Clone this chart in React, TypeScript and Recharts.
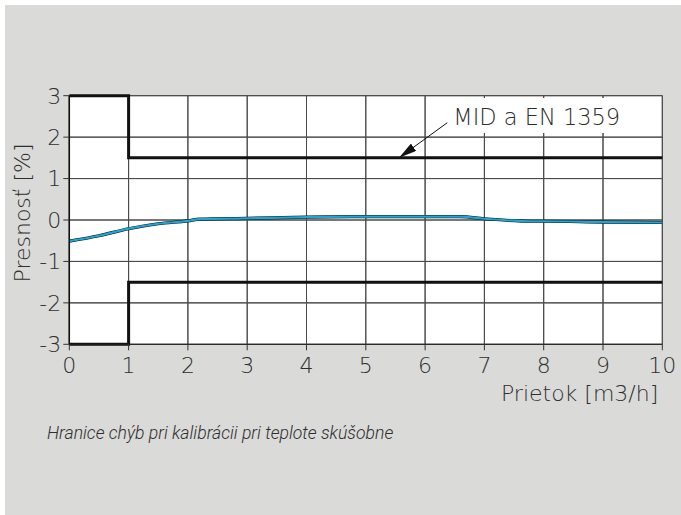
import React from "react";
import {
  LineChart,
  Line,
  XAxis,
  YAxis,
  CartesianGrid,
  ReferenceDot,
} from "recharts";

// ---- data ----
const xTicks = [0, 1, 2, 3, 4, 5, 6, 7, 8, 9, 10];
const yTicks = [-3, -2, -1, 0, 1, 2, 3];

const limitX = [0, 1, 1, 10];
const upperLimitY = [3, 3, 1.5, 1.5];
const lowerLimitY = [-3, -3, -1.5, -1.5];

const flowX = [0, 0.5, 1, 1.5, 2, 2.2, 3, 4, 5, 6, 6.6, 7, 7.8, 8, 9, 10];
const errorY = [-0.51, -0.38, -0.21, -0.09, -0.02, 0.02, 0.04, 0.07, 0.08, 0.08, 0.08, 0.03, -0.03, -0.03, -0.05, -0.06];

const arrowX = [6.39, 5.56];
const arrowY = [2.365, 1.5];
const annotationText = "MID a EN 1359";

const xLabel = "Prietok [m3/h]";
const yLabel = "Presnosť [%]";
const caption = "Hranice chýb pri kalibrácii pri teplote skúšobne";

// ---- tables ----
const xMin = xTicks[0];
const xMax = xTicks[xTicks.length - 1];
const yMin = yTicks[0];
const yMax = yTicks[yTicks.length - 1];
const hGrid = yTicks.map((v) => [
  { x: xMin, y: v },
  { x: xMax, y: v },
]);
const vGrid = xTicks.map((v) => [
  { x: v, y: yMin },
  { x: v, y: yMax },
]);
const upperData = limitX.map((x, i) => ({ x, y: upperLimitY[i] }));
const lowerData = limitX.map((x, i) => ({ x, y: lowerLimitY[i] }));
const curveData = flowX.map((x, i) => ({ x, y: errorY[i] }));
const arrowData = arrowX.map((x, i) => ({ x, y: arrowY[i] }));

const FONT = "'DejaVu Sans', sans-serif";
const CAPTION_FONT = "Roboto, 'Noto Sans', sans-serif";
const TEXT = "#2e2e2e";
const W = 200;
const GRID = "#4a4a4a";

// plot-area layout (pixels)
const M = { top: 95.7, right: 18.7, bottom: 140.7, left: 9.3 };
const Y_AXIS_W = 60;
const X_AXIS_H = 30;
const CW = 681;
const CH = 515;

const AnnotationShape = (props: any) => {
  const { cx, cy } = props;
  if (cx == null || cy == null) return null;
  return (
    <g>
      <rect x={cx - 1} y={cy - 24} width={181} height={35} fill="#fff" />
      <text
        x={cx + 5}
        y={cy + 3}
        fontFamily={FONT}
        fontWeight={W}
        fontSize={22.5}
        fill={TEXT}
      >
        {annotationText}
      </text>
    </g>
  );
};

const XLabelContent = (props: any) => {
  const vb = props.viewBox || {};
  return (
    <text
      x={vb.x + vb.width - 4}
      y={vb.y + 57}
      textAnchor="end"
      fontFamily={FONT}
      fontWeight={W}
      fontSize={22}
      fill={TEXT}
    >
      {xLabel}
    </text>
  );
};

const YLabelContent = () => {
  const cx = 30;
  const cy = 213;
  return (
    <text
      x={cx}
      y={cy}
      transform={`rotate(-90 ${cx} ${cy})`}
      textAnchor="middle"
      fontFamily={FONT}
      fontWeight={W}
      fontSize={22}
      fill={TEXT}
    >
      {yLabel}
    </text>
  );
};

export default function App() {
  return (
    <div
      style={{
        position: "absolute",
        left: 0,
        top: 0,
        width: CW,
        height: CH,
        background: "#fff",
      }}
    >
      <svg width="0" height="0" style={{ position: "absolute" }}>
        <defs>
          <marker
            id="arrowHead"
            viewBox="0 0 18 9"
            refX="18"
            refY="4.5"
            markerWidth="18"
            markerHeight="9"
            markerUnits="userSpaceOnUse"
            orient="auto"
          >
            <path d="M0,0 L18,4.5 L0,9 z" fill="#111" />
          </marker>
        </defs>
      </svg>
      <div
        style={{
          position: "absolute",
          left: 5,
          top: 5,
          width: CW - 5,
          height: CH - 5,
          background: "#dadad9",
        }}
      />
      <div
        style={{
          position: "absolute",
          left: M.left + Y_AXIS_W,
          top: M.top,
          width: CW - M.left - Y_AXIS_W - M.right,
          height: CH - M.top - M.bottom - X_AXIS_H,
          background: "#fff",
        }}
      />
      <div style={{ position: "absolute", left: 0, top: 0 }}>
        <LineChart width={CW} height={CH} data={curveData} margin={M}>
          <CartesianGrid stroke={GRID} strokeWidth={1} />
          <XAxis
            type="number"
            dataKey="x"
            domain={[xMin, xMax]}
            ticks={xTicks}
            interval={0}
            tickSize={6}
            tickMargin={7}
            height={X_AXIS_H}
            axisLine={{ stroke: "#222", strokeWidth: 1 }}
            tickLine={{ stroke: "#333" }}
            tick={{ fontFamily: FONT, fontWeight: W, fontSize: 22, fill: TEXT }}
            label={<XLabelContent />}
          />
          <YAxis
            type="number"
            dataKey="y"
            domain={[yMin, yMax]}
            ticks={yTicks}
            interval={0}
            width={Y_AXIS_W}
            tickSize={6}
            tickMargin={2}
            axisLine={{ stroke: "#111", strokeWidth: 1.5 }}
            tickLine={{ stroke: "#333" }}
            tick={{ fontFamily: FONT, fontWeight: W, fontSize: 22, fill: TEXT }}
            label={<YLabelContent />}
          />
          {hGrid.map((d, i) => (
            <Line
              key={`hg${i}`}
              data={d}
              dataKey="y"
              type="linear"
              stroke={GRID}
              strokeWidth={1}
              dot={false}
              isAnimationActive={false}
            />
          ))}
          {vGrid.map((d, i) => (
            <Line
              key={`vg${i}`}
              data={d}
              dataKey="y"
              type="linear"
              stroke={GRID}
              strokeWidth={1}
              dot={false}
              isAnimationActive={false}
            />
          ))}
          <Line
            data={curveData}
            dataKey="y"
            type="monotone"
            stroke="#111"
            strokeWidth={3.2}
            dot={false}
            isAnimationActive={false}
          />
          <Line
            data={curveData}
            dataKey="y"
            type="monotone"
            stroke="#1ca7d8"
            strokeWidth={2.2}
            dot={false}
            isAnimationActive={false}
          />
          <Line
            data={upperData}
            dataKey="y"
            type="linear"
            stroke="#111"
            strokeWidth={3}
            dot={false}
            isAnimationActive={false}
          />
          <Line
            data={lowerData}
            dataKey="y"
            type="linear"
            stroke="#111"
            strokeWidth={3}
            dot={false}
            isAnimationActive={false}
          />
          <ReferenceDot
            x={arrowX[0]}
            y={arrowY[0]}
            r={1}
            shape={<AnnotationShape />}
            ifOverflow="visible"
          />
          <Line
            data={arrowData}
            dataKey="y"
            type="linear"
            stroke="#111"
            strokeWidth={1}
            dot={false}
            markerEnd="url(#arrowHead)"
            isAnimationActive={false}
          />
        </LineChart>
      </div>
      <div
        style={{
          position: "absolute",
          left: 47,
          top: 422,
          fontFamily: CAPTION_FONT,
          fontWeight: 300,
          fontStyle: "italic",
          fontSize: 17.6,
          color: TEXT,
          whiteSpace: "nowrap",
          lineHeight: "22px",
        }}
      >
        {caption}
      </div>
    </div>
  );
}
